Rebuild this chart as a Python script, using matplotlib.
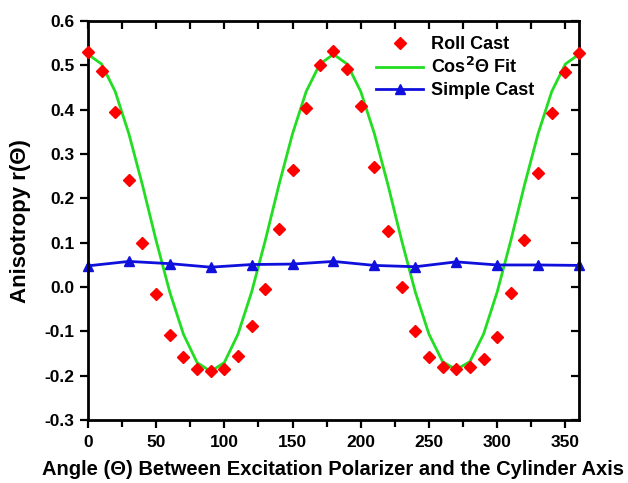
import matplotlib
matplotlib.use('Agg')
import matplotlib.pyplot as plt
from matplotlib.ticker import MultipleLocator, FormatStrFormatter

plt.rcParams['font.family'] = ['Liberation Sans', 'DejaVu Sans']
plt.rcParams['font.weight'] = 'bold'
plt.rcParams['mathtext.default'] = 'bf'

# Roll cast measurements, every 10 degrees
roll_angle = list(range(0, 361, 10))
roll_r = [0.530, 0.488, 0.395, 0.242, 0.099, -0.016, -0.109, -0.158, -0.184, -0.190,
          -0.184, -0.155, -0.088, -0.005, 0.131, 0.264, 0.404, 0.500, 0.532,
          0.492, 0.408, 0.271, 0.127, 0.000, -0.100, -0.157, -0.180, -0.185,
          -0.180, -0.162, -0.112, -0.013, 0.106, 0.257, 0.393, 0.485, 0.528]

# Cos^2 fit, every 10 degrees
fit_angle = list(range(0, 361, 10))
fit_r = [0.525, 0.503, 0.441, 0.346, 0.230, 0.105, -0.011, -0.106, -0.170, -0.190,
         -0.170, -0.106, -0.011, 0.105, 0.230, 0.346, 0.441, 0.503, 0.525,
         0.503, 0.441, 0.346, 0.230, 0.105, -0.011, -0.106, -0.168, -0.186,
         -0.168, -0.106, -0.011, 0.105, 0.230, 0.346, 0.441, 0.503, 0.525]

# Simple cast measurements, every 30 degrees
simple_angle = list(range(0, 361, 30))
simple_r = [0.048, 0.058, 0.053, 0.045, 0.051, 0.052, 0.058, 0.049, 0.046,
            0.057, 0.050, 0.050, 0.049]

fig = plt.figure(figsize=(6.28, 4.83), dpi=100)
ax = fig.add_axes([0.140, 0.130, 0.782, 0.8265])

ax.plot(roll_angle, roll_r, linestyle='none', marker='D', markersize=6.5,
        color='#ff0000', label='Roll Cast', clip_on=False, zorder=3)
ax.plot(fit_angle, fit_r, color='#22dd22', linewidth=2,
        label=r'Cos$^{2}$Θ Fit', clip_on=False, zorder=2)
ax.plot(simple_angle, simple_r, color='#1010dd', linewidth=2, marker='^',
        markersize=7, label='Simple Cast', clip_on=False, zorder=2)

ax.set_xlim(0, 360)
ax.set_ylim(-0.3, 0.6)
ax.xaxis.set_major_locator(MultipleLocator(50))
ax.xaxis.set_minor_locator(MultipleLocator(25))
ax.yaxis.set_major_locator(MultipleLocator(0.1))
ax.yaxis.set_major_formatter(FormatStrFormatter('%.1f'))

for side in ax.spines.values():
    side.set_linewidth(2)

# bottom/left ticks point outward
ax.tick_params(which='both', direction='out', width=1.6, labelsize=12.5)
ax.tick_params(which='major', length=6)
ax.tick_params(which='minor', length=5)
ax.tick_params(axis='x', pad=5)

# top/right ticks point inward, no labels
sec_x = ax.secondary_xaxis('top')
sec_x.xaxis.set_major_locator(MultipleLocator(25))
sec_x.tick_params(direction='in', length=6, width=1.6, labeltop=False)
sec_y = ax.secondary_yaxis('right')
sec_y.yaxis.set_major_locator(MultipleLocator(0.1))
sec_y.tick_params(direction='in', length=6, width=1.6, labelright=False)

ax.set_xlabel('Angle (Θ) Between Excitation Polarizer and the Cylinder Axis',
              fontsize=14.5, fontweight='bold', labelpad=7)
ax.set_ylabel('Anisotropy r(Θ)', fontsize=16, fontweight='bold', labelpad=10)

ax.legend(loc='upper right', bbox_to_anchor=(0.93, 0.99), frameon=False,
          fontsize=13, handlelength=2.6, handletextpad=0.4,
          labelspacing=0.25, borderaxespad=0.2)

fig.savefig('out.png', dpi=100)
